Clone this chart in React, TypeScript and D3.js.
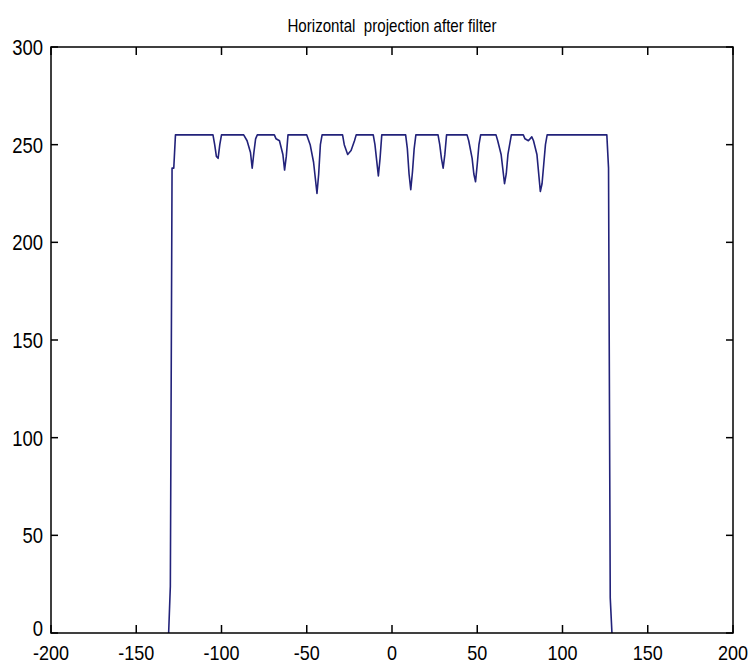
import React from 'react';
import { scaleLinear, line } from 'd3';

// keypoints of the projection profile (x position, value)
const xs = [
  -131, -130, -129, -128, -127,
  -105, -104, -103, -102, -101, -100,
  -87, -85, -83, -82, -81, -80, -79,
  -69, -68, -66, -64, -63, -62, -61,
  -50, -48, -46, -44, -43, -42, -41,
  -29, -28, -26, -24, -22, -21,
  -11, -10, -9, -8, -7, -6,
  8, 9, 10, 11, 12, 13, 14,
  27, 28, 29, 30, 31, 32,
  44, 45, 47, 48, 49, 50, 51, 52,
  61, 62, 64, 66, 67, 68, 70,
  77, 78, 80, 82, 83, 85, 87, 88, 89, 90, 91,
  125, 126, 127, 128, 129,
];
const ys = [
  0, 24, 238, 238, 255,
  255, 250, 244, 243, 250, 255,
  255, 252, 246, 238, 246, 253, 255,
  255, 253, 252, 245, 237, 244, 255,
  255, 250, 241, 225, 235, 250, 255,
  255, 250, 245, 247, 252, 255,
  255, 250, 242, 234, 243, 255,
  255, 248, 235, 227, 236, 248, 255,
  255, 250, 243, 238, 245, 255,
  255, 252, 243, 235, 231, 240, 250, 255,
  255, 252, 245, 230, 235, 245, 255,
  255, 253, 252, 254, 252, 245, 226, 230, 240, 250, 255,
  255, 255, 238, 18, 0,
];

const xTicks = [-200, -150, -100, -50, 0, 50, 100, 150, 200];
const yTicks = [0, 50, 100, 150, 200, 250, 300];
const title = 'Horizontal  projection after filter';

const W = 753;
const H = 664;
const left = 51, right = 733, top = 47, bottom = 633;
const font = '"Liberation Sans", Arial, sans-serif';

// the original figure uses a condensed face, so squeeze the text horizontally
function Narrow({ x, y, size, anchor, sx, children }: any) {
  return (
    <text
      transform={`translate(${x},${y}) scale(${sx},1)`}
      textAnchor={anchor}
      fontFamily={font}
      fontSize={size}
      fill="#000"
      style={{ whiteSpace: 'pre' }}
    >
      {children}
    </text>
  );
}

export default function App() {
  const x = scaleLinear().domain([-200, 200]).range([left, right]);
  const y = scaleLinear().domain([0, 300]).range([bottom, top]);
  const pts = xs.map((v, i) => [v, ys[i]] as [number, number]);
  const path = line<[number, number]>().x(d => x(d[0])).y(d => y(d[1]))(pts) || '';

  return (
    <svg width={W} height={H} style={{ position: 'absolute', left: 0, top: 0, background: '#fff' }}>
      <rect x={0} y={0} width={W} height={H} fill="#fff" />
      <path d={path} fill="none" stroke="#22227a" strokeWidth={1.6} strokeLinejoin="round" />
      <rect x={left} y={top} width={right - left} height={bottom - top} fill="none" stroke="#000" strokeWidth={1.5} />
      {xTicks.map(t => (
        <g key={'x' + t}>
          <line x1={x(t)} x2={x(t)} y1={bottom} y2={bottom - 8} stroke="#000" strokeWidth={1.5} />
          <line x1={x(t)} x2={x(t)} y1={top} y2={top + 8} stroke="#000" strokeWidth={1.5} />
          <Narrow x={x(t)} y={660} size={20} anchor="middle" sx={0.9}>{t}</Narrow>
        </g>
      ))}
      {yTicks.map(t => (
        <g key={'y' + t}>
          <line x1={left} x2={left + 7} y1={y(t)} y2={y(t)} stroke="#000" strokeWidth={1.5} />
          <line x1={right} x2={right - 7} y1={y(t)} y2={y(t)} stroke="#000" strokeWidth={1.5} />
          <Narrow x={43} y={y(t) + (t === 0 ? 3 : 8)} size={22} anchor="end" sx={0.84}>{t}</Narrow>
        </g>
      ))}
      <Narrow x={392} y={32} size={18} anchor="middle" sx={0.84}>{title}</Narrow>
    </svg>
  );
}
